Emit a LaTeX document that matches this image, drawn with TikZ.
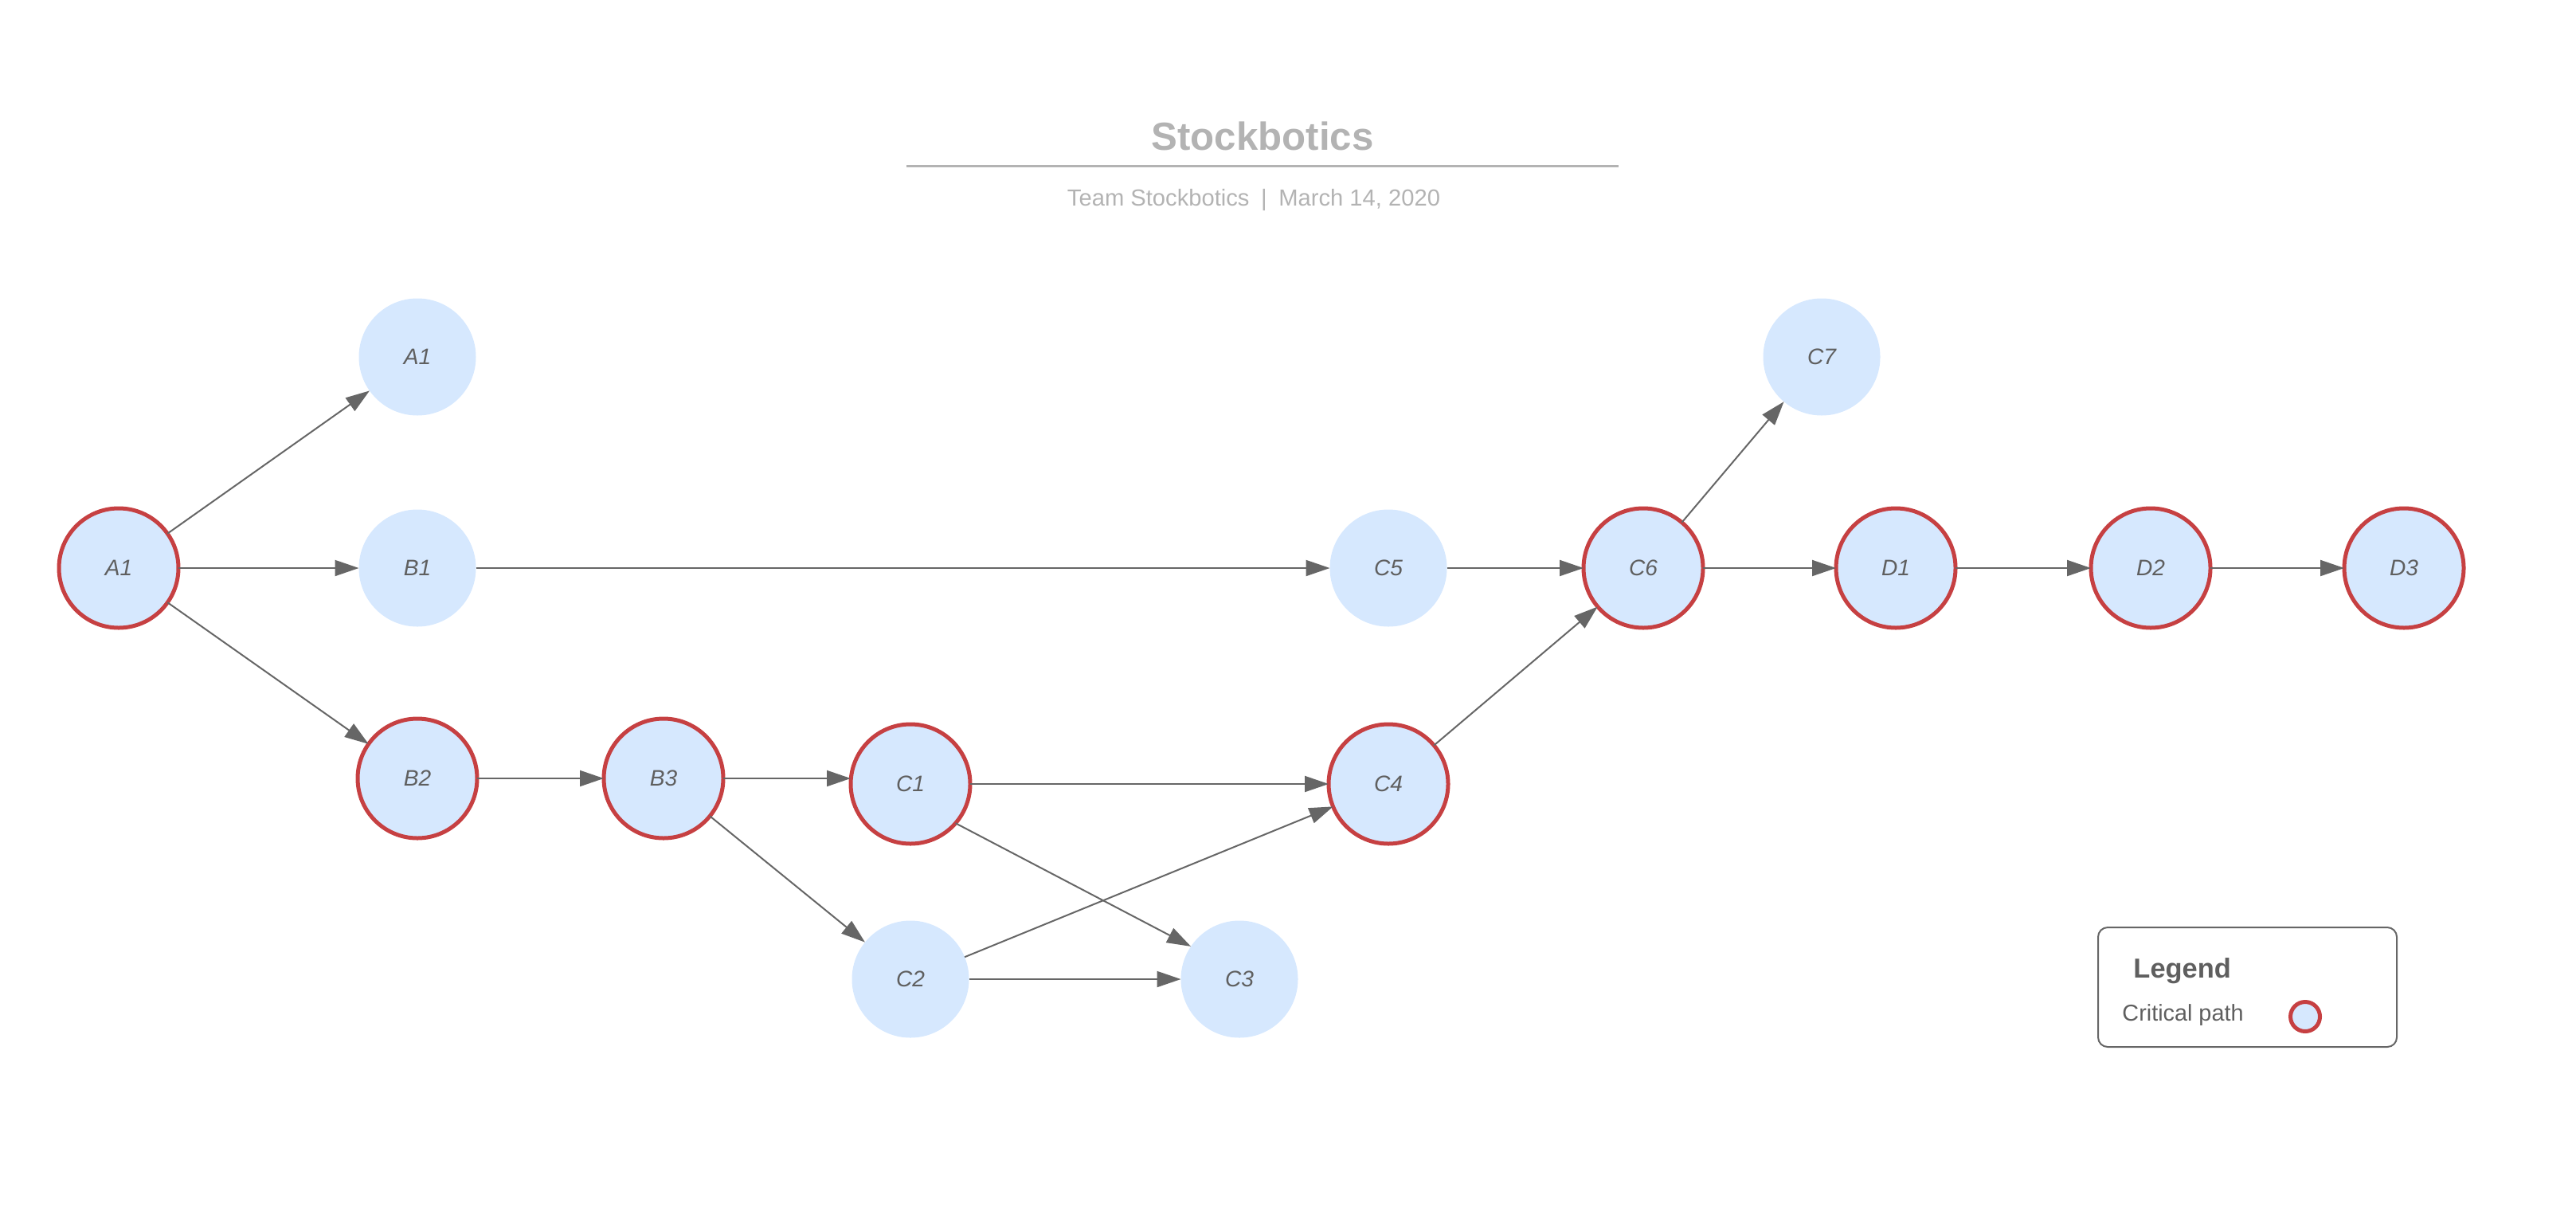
\documentclass[tikz,border=0pt]{standalone}
\usepackage{fontspec}
\setmainfont{Liberation Sans}
\usetikzlibrary{arrows.meta}
\definecolor{nodefill}{HTML}{D6E8FE}
\definecolor{critred}{HTML}{C64042}
\definecolor{linegray}{HTML}{666666}
\definecolor{textgray}{HTML}{5F5F5F}
\definecolor{titlegray}{HTML}{B3B3B3}
\tikzset{
  task/.style={circle, fill=nodefill, minimum size=1.47cm, inner sep=0pt, outer sep=0pt,
    font=\fontsize{8}{9.6}\selectfont\itshape, text=textgray},
  crit/.style={task, draw=critred, line width=0.05cm, minimum size=1.5cm},
  conn/.style={draw=linegray, line width=0.02cm, -{Triangle[length=0.3cm, width=0.2cm]}},
}
\begin{document}
\begin{tikzpicture}
\useasboundingbox (0,0) rectangle (32.34,-15.24);
% title
\node[font=\fontsize{14}{16}\selectfont\bfseries, text=titlegray] (title) at (15.85,-1.71) {Stockbotics};
\coordinate (ulL) at (11.38,-2.08);
\coordinate (ulR) at (20.32,-2.08);
\draw[titlegray, line width=0.03cm] (ulL) -- (ulR);
\node[font=\fontsize{8.3}{10}\selectfont, text=titlegray] (sub) at (15.74,-2.51) {Team Stockbotics\enspace|\enspace March 14, 2020};
% nodes
\node[crit] (A1L) at (1.49,-7.13) {A1};
\node[task] (A1T) at (5.24,-4.48) {A1};
\node[task] (B1) at (5.24,-7.13) {B1};
\node[crit] (B2) at (5.24,-9.77) {B2};
\node[crit] (B3) at (8.33,-9.77) {B3};
\node[crit] (C1) at (11.43,-9.84) {C1};
\node[task] (C2) at (11.43,-12.29) {C2};
\node[task] (C3) at (15.56,-12.29) {C3};
\node[crit] (C4) at (17.43,-9.84) {C4};
\node[task] (C5) at (17.43,-7.13) {C5};
\node[crit] (C6) at (20.63,-7.13) {C6};
\node[task] (C7) at (22.87,-4.48) {C7};
\node[crit] (D1) at (23.80,-7.13) {D1};
\node[crit] (D2) at (27.00,-7.13) {D2};
\node[crit] (D3) at (30.18,-7.13) {D3};
% connectors
\draw[conn] (A1L) -- (A1T);
\draw[conn] (A1L) -- (B1);
\draw[conn] (A1L) -- (B2);
\draw[conn] (B1) -- (C5);
\draw[conn] (B2) -- (B3);
\draw[conn] (B3) -- (C1.west |- B3);
\draw[conn] (B3) -- (C2);
\draw[conn] (C1) -- (C4);
\draw[conn] (C1.-41) -- (C3.146);
\draw[conn] (C2) -- (C3);
\draw[conn] (C2) -- (C4);
\draw[conn] (C5) -- (C6);
\draw[conn] (C4) -- (C6);
\draw[conn] (C6) -- (C7);
\draw[conn] (C6) -- (D1);
\draw[conn] (D1) -- (D2);
\draw[conn] (D2) -- (D3);
% legend
\node[draw=linegray, line width=0.02cm, rounded corners=0.12cm, minimum width=3.75cm, minimum height=1.5cm, anchor=north west] (legend) at (26.33,-11.63) {};
\node[font=\fontsize{9.8}{11}\selectfont\bfseries, text=textgray, anchor=west] (legtitle) at (26.66,-12.19) {Legend};
\node[font=\fontsize{8.2}{10}\selectfont, text=textgray, anchor=west] (legtext) at (26.52,-12.74) {Critical path};
\node[circle, fill=nodefill, draw=critred, line width=0.05cm, minimum size=0.37cm, inner sep=0pt] (legcirc) at (28.94,-12.76) {};
\end{tikzpicture}
\end{document}
